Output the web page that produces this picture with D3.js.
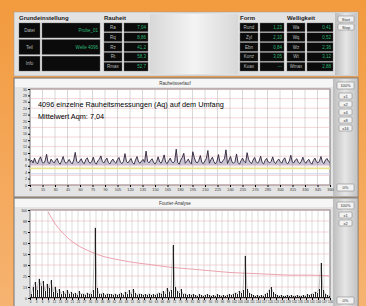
<!DOCTYPE html>
<html>
<head>
<meta charset="utf-8">
<script src="https://cdn.jsdelivr.net/npm/d3@7"></script>
<style>
  body { margin: 0; background: #f3a04a; }
  svg { display: block; font-family: "Liberation Sans", Arial, sans-serif; }
</style>
</head>
<body>
<div id="chart"></div>
<script>
// top tables
const grundLabels = ["Datei", "Teil", "Info"];
const grundValues = ["Probe_01", "Welle 4096", ""];
const rauheitLabels = ["Ra", "Rq", "Rz", "Rt", "Rmax"];
const rauheitValues = ["7,04", "8,86", "41,2", "58,3", "52,7"];
const formLabels = ["Rund", "Zyl", "Ebn", "Konz", "Koax"];
const formValues = ["1,23", "2,10", "0,84", "3,05", "---"];
const welligLabels = ["Wa", "Wq", "Wz", "Wt", "Wmax"];
const welligValues = ["0,41", "0,52", "2,36", "3,12", "2,88"];

// middle chart: roughness along the circumference (deg)
const angleTicks = d3.range(0, 361, 15);
const roughValues = [
  7.2,7.8,6.9,8.4,7.1,6.6,7.9,8.8,7.3,6.8,
  7.5,9.6,7.0,6.7,8.1,7.4,6.9,7.7,8.3,7.0,
  6.5,7.6,8.9,7.2,6.8,7.3,8.0,7.1,6.6,7.8,
  10.2,7.4,6.9,7.5,8.2,7.0,6.7,7.9,8.5,7.2,
  6.8,7.4,8.7,7.1,6.5,7.6,8.0,9.1,7.3,6.9,
  7.7,8.4,7.0,6.6,7.5,8.1,7.2,6.8,7.9,8.6,
  7.1,6.7,7.4,9.8,7.3,6.9,7.6,8.3,7.0,6.5,
  7.8,8.9,7.2,6.8,7.5,8.0,7.1,10.6,7.4,6.9,
  7.7,8.2,7.0,6.6,7.3,8.8,7.2,6.8,7.9,9.4,
  7.1,6.7,7.6,8.4,7.3,6.9,7.5,11.2,7.0,6.5,
  7.8,8.6,9.9,6.8,7.4,8.1,7.1,6.6,10.4,8.5,
  7.2,6.9,7.7,9.2,7.0,6.7,7.5,8.3,10.8,6.8,
  7.9,8.7,7.3,6.6,7.4,9.5,7.1,6.9,7.6,8.2,
  11.0,6.7,7.8,8.9,7.2,6.8,7.3,9.7,7.0,6.5,
  7.6,8.4,7.4,6.9,10.1,8.0,7.1,6.7,7.8,8.6,
  7.3,6.8,7.5,9.0,7.0,6.6,7.7,8.3,7.2,6.9,
  7.4,8.8,7.1,6.7,7.6,8.1,7.3,6.8,7.9,8.5,
  7.0,6.6,7.5,9.3,7.2,6.9,7.8,8.2,7.1,6.7,
  7.4,8.7,7.3,6.8,7.6,8.0,7.0,6.5,7.7,8.4,
  7.2,6.9,7.5,8.9,7.1,6.7,7.8,8.3,7.4,7.0
];
const limitYellow = 5.2;
const limitBlue = 3.5;

// bottom chart: fourier spectrum (order -> amplitude) and limit curve
const spectrum = [
  4,12,18,9,22,14,19,8,16,11,
  20,7,13,6,10,5,8,4,9,5,
  7,4,6,3,8,4,5,3,6,4,
  5,9,80,11,5,4,6,3,5,4,
  4,3,5,3,4,6,3,7,5,9,
  4,10,6,3,5,4,3,4,3,5,
  3,4,3,5,6,4,8,5,11,7,
  9,60,13,8,6,10,4,5,3,4,
  3,4,3,2,4,3,2,3,4,3,
  2,3,2,4,3,2,3,2,3,4,
  3,4,6,5,8,6,9,48,10,6,
  4,3,2,3,2,3,2,4,6,9,
  12,7,4,3,2,3,2,2,3,2,
  3,2,2,3,2,2,3,2,4,3,
  4,5,7,6,10,40,9,5,3,2
];
const curveOrders = [9, 11, 13, 16, 19, 23, 27, 32, 37, 43, 50, 60, 70, 80, 90, 100, 110, 120, 130, 140, 150];
const curveValues = [98, 90, 83, 75, 68, 61, 56, 51, 47, 44, 41, 38, 35, 33, 31, 29, 28, 27, 26, 26, 25];

const W = 366, H = 306;
const svg = d3.select("#chart").append("svg").attr("width", W).attr("height", H);

// orange background
let defs = svg.append("defs");
let bg = defs.append("linearGradient").attr("id", "orange")
  .attr("x1", 0).attr("y1", 0).attr("x2", 0).attr("y2", 1);
bg.append("stop").attr("offset", 0).attr("stop-color", "#f29a3e");
bg.append("stop").attr("offset", 1).attr("stop-color", "#f6b371");
svg.append("rect").attr("width", W).attr("height", H).attr("fill", "url(#orange)");

let side = defs.append("linearGradient").attr("id", "side")
  .attr("x1", 0).attr("y1", 0).attr("x2", 1).attr("y2", 0);
side.append("stop").attr("offset", 0).attr("stop-color", "#bdbdbd");
side.append("stop").attr("offset", 0.5).attr("stop-color", "#e6e6e6");
side.append("stop").attr("offset", 1).attr("stop-color", "#c4c4c4");

let mid = defs.append("linearGradient").attr("id", "mid")
  .attr("x1", 0).attr("y1", 0).attr("x2", 1).attr("y2", 0);
mid.append("stop").attr("offset", 0).attr("stop-color", "#d8d8d8");
mid.append("stop").attr("offset", 0.5).attr("stop-color", "#f4f4f4");
mid.append("stop").attr("offset", 1).attr("stop-color", "#d8d8d8");

const left = 14, right = 358;

// ---------- top panel ----------
let topPanel = svg.append("g");
topPanel.append("rect").attr("x", left).attr("y", 12).attr("width", right - left).attr("height", 64)
  .attr("fill", "#e2e2e2").attr("stroke", "#9a9a9a").attr("stroke-width", 0.5);
topPanel.append("rect").attr("x", 150).attr("y", 14).attr("width", 88).attr("height", 60).attr("fill", "url(#mid)");

function header(x, y, t) {
  topPanel.append("text").attr("x", x).attr("y", y).attr("font-size", 6).attr("font-weight", "bold")
    .attr("fill", "#222").text(t);
}
header(19, 20, "Grundeinstellung");
header(104, 20, "Rauheit");
header(240, 20, "Form");
header(287, 20, "Welligkeit");

function cell(x, y, w, h, t, col, anchor) {
  topPanel.append("rect").attr("x", x).attr("y", y).attr("width", w).attr("height", h)
    .attr("fill", "#0b0b0b").attr("stroke", "#666").attr("stroke-width", 0.4);
  if (t) topPanel.append("text").attr("x", anchor === "end" ? x + w - 2 : x + w / 2).attr("y", y + h / 2 + 1.6)
    .attr("text-anchor", anchor || "middle").attr("font-size", 4.5).attr("fill", col).text(t);
}

let gy = d3.scaleBand().domain(grundLabels).range([23, 71]).paddingInner(0.1);
grundLabels.forEach((l, i) => {
  cell(19, gy(l), 21, gy.bandwidth(), l, "#bbb");
  cell(42, gy(l), 58, gy.bandwidth(), grundValues[i], "#2bb673", "end");
});

function table(labels, values, x0, lw, vw) {
  let y = d3.scaleBand().domain(labels).range([23, 71]).paddingInner(0.12);
  labels.forEach((l, i) => {
    cell(x0, y(l), lw, y.bandwidth(), l, "#bbb");
    cell(x0 + lw + 2, y(l), vw, y.bandwidth(), values[i], "#2bb673", "end");
  });
}
table(rauheitLabels, rauheitValues, 104, 18, 24);
table(formLabels, formValues, 240, 18, 24);
table(welligLabels, welligValues, 287, 18, 26);

function button(g, x, y, w, h, t) {
  g.append("rect").attr("x", x).attr("y", y).attr("width", w).attr("height", h).attr("rx", 1)
    .attr("fill", "#f2f2f2").attr("stroke", "#777").attr("stroke-width", 0.5);
  g.append("text").attr("x", x + w / 2).attr("y", y + h / 2 + 1.5).attr("text-anchor", "middle")
    .attr("font-size", 4).attr("fill", "#333").text(t);
}
topPanel.append("rect").attr("x", 335).attr("y", 13).attr("width", 22).attr("height", 62).attr("fill", "url(#side)");
button(topPanel, 338, 16, 16, 6, "Start");
button(topPanel, 338, 24, 16, 6, "Stop");

// ---------- chart panels ----------
const plotL = 30, plotR = 330;

function panel(y0, y1, title) {
  let g = svg.append("g");
  g.append("rect").attr("x", left).attr("y", y0).attr("width", right - left).attr("height", y1 - y0)
    .attr("fill", "#e4e4e4").attr("stroke", "#777").attr("stroke-width", 1);
  g.append("rect").attr("x", left + 1).attr("y", y0 + 1).attr("width", 318).attr("height", 8).attr("fill", "#f6f6f6");
  g.append("text").attr("x", 175).attr("y", y0 + 7).attr("text-anchor", "middle")
    .attr("font-size", 4.5).attr("fill", "#333").text(title);
  g.append("rect").attr("x", 333).attr("y", y0 + 1).attr("width", 24).attr("height", y1 - y0 - 2).attr("fill", "url(#side)");
  return g;
}

// 1. middle: roughness over circumference
let g1 = panel(78, 197, "Rauheitsverlauf");
let x1 = d3.scaleLinear().domain([0, 360]).range([plotL, plotR]);
let y1 = d3.scaleLinear().domain([0, 30]).range([185, 89]);

g1.append("rect").attr("x", plotL).attr("y", 89).attr("width", plotR - plotL).attr("height", 96)
  .attr("fill", "#fff").attr("stroke", "#555").attr("stroke-width", 0.8);
g1.append("g").selectAll("line").data(d3.range(0, 31, 3)).enter().append("line")
  .attr("x1", plotL).attr("x2", plotR).attr("y1", d => y1(d)).attr("y2", d => y1(d))
  .attr("stroke", "#f0b8c0").attr("stroke-width", 0.6);
g1.append("g").selectAll("line").data(angleTicks).enter().append("line")
  .attr("x1", d => x1(d)).attr("x2", d => x1(d)).attr("y1", 89).attr("y2", 185)
  .attr("stroke", "#b0b0b0").attr("stroke-width", 0.5);

g1.append("g").attr("transform", "translate(0,185)")
  .call(d3.axisBottom(x1).tickValues(angleTicks).tickSize(2).tickPadding(1))
  .call(a => a.select(".domain").remove())
  .call(a => a.selectAll("text").attr("font-size", 3.8).attr("fill", "#333"));
g1.append("g").attr("transform", "translate(" + plotL + ",0)")
  .call(d3.axisLeft(y1).tickValues(d3.range(0, 31, 2)).tickSize(2).tickPadding(1))
  .call(a => a.select(".domain").remove())
  .call(a => a.selectAll("text").attr("font-size", 3.5).attr("fill", "#333"));

g1.append("line").attr("x1", plotL).attr("x2", plotR).attr("y1", y1(limitYellow)).attr("y2", y1(limitYellow))
  .attr("stroke", "#e8e488").attr("stroke-width", 1.6);
g1.append("line").attr("x1", plotL).attr("x2", plotR).attr("y1", y1(limitBlue)).attr("y2", y1(limitBlue))
  .attr("stroke", "#c8d0e8").attr("stroke-width", 1);

let rx = d3.scaleLinear().domain([0, roughValues.length - 1]).range([x1(0), x1(360)]);
let roughLine = d3.line().x((d, i) => rx(i)).y(d => y1(d));
g1.append("path").datum(roughValues).attr("d", d3.area().x((d, i) => rx(i)).y0(y1(6.2)).y1(d => y1(d)))
  .attr("fill", "#7a6890").attr("opacity", 0.4);
g1.append("path").datum(roughValues).attr("d", roughLine)
  .attr("fill", "none").attr("stroke", "#2e2338").attr("stroke-width", 0.9);

g1.append("text").attr("x", 38).attr("y", 107).attr("font-size", 7.3).attr("fill", "#000")
  .text("4096 einzelne Rauheitsmessungen (Aq) auf dem Umfang");
g1.append("text").attr("x", 38).attr("y", 119).attr("font-size", 7.3).attr("fill", "#000")
  .text("Mittelwert Aqm: 7,04");

button(g1, 337, 82, 17, 7, "100%");
["x1", "x2", "x4", "x8", "x16"].forEach((t, i) => button(g1, 339, 93 + i * 8, 13, 6, t));
button(g1, 337, 184, 17, 7, "0%");

// 2. bottom: fourier analysis
let g2 = panel(198, 307, "Fourier-Analyse");
let x2 = d3.scaleLinear().domain([0, spectrum.length]).range([plotL, plotR]);
let y2 = d3.scaleLinear().domain([0, 100]).range([298, 210]);

g2.append("rect").attr("x", plotL).attr("y", 210).attr("width", plotR - plotL).attr("height", 88)
  .attr("fill", "#fff").attr("stroke", "#555").attr("stroke-width", 0.8);
g2.append("g").selectAll("line").data(d3.range(0, 101, 12.5)).enter().append("line")
  .attr("x1", plotL).attr("x2", plotR).attr("y1", d => y2(d)).attr("y2", d => y2(d))
  .attr("stroke", "#f0b8c0").attr("stroke-width", 0.6);
g2.append("g").selectAll("line").data(d3.range(0, 151, 3)).enter().append("line")
  .attr("x1", d => x2(d)).attr("x2", d => x2(d)).attr("y1", 210).attr("y2", 298)
  .attr("stroke", "#b8b8b8").attr("stroke-width", 0.5);

g2.append("g").attr("transform", "translate(0,298)")
  .call(d3.axisBottom(x2).tickValues(d3.range(0, 151, 3)).tickSize(2).tickPadding(1))
  .call(a => a.select(".domain").remove())
  .call(a => a.selectAll("text").attr("font-size", 3).attr("fill", "#333"));
g2.append("g").attr("transform", "translate(" + plotL + ",0)")
  .call(d3.axisLeft(y2).tickValues(d3.range(0, 101, 12.5)).tickSize(2).tickPadding(1))
  .call(a => a.select(".domain").remove())
  .call(a => a.selectAll("text").attr("font-size", 3.5).attr("fill", "#333"));

let curve = curveOrders.map((o, i) => ({x: o, y: curveValues[i]}));
g2.append("path").datum(curve)
  .attr("d", d3.line().x(d => x2(d.x)).y(d => y2(d.y)).curve(d3.curveMonotoneX))
  .attr("fill", "none").attr("stroke", "#eb9aa6").attr("stroke-width", 0.9);

// spectrum as thin spikes
g2.append("path").datum(spectrum).attr("d", d3.line().x((d, i) => x2(i + 0.5)).y(d => y2(d)))
  .attr("fill", "none").attr("stroke", "#666").attr("stroke-width", 0.4);
g2.append("g").selectAll("line").data(spectrum).enter().append("line")
  .attr("x1", (d, i) => x2(i + 0.5) + 0.5).attr("x2", (d, i) => x2(i + 0.5) + 0.5)
  .attr("y1", y2(0)).attr("y2", d => y2(d))
  .attr("stroke", "#1e1e1e").attr("stroke-width", 1).attr("shape-rendering", "crispEdges");
g2.append("line").attr("x1", plotL).attr("x2", plotR).attr("y1", y2(0) - 0.5).attr("y2", y2(0) - 0.5)
  .attr("stroke", "#222").attr("stroke-width", 1.2);

button(g2, 337, 202, 17, 7, "100%");
button(g2, 339, 212, 13, 6, "x1");
button(g2, 339, 220, 13, 6, "x2");
button(g2, 337, 297, 17, 7, "0%");
</script>
</body>
</html>
